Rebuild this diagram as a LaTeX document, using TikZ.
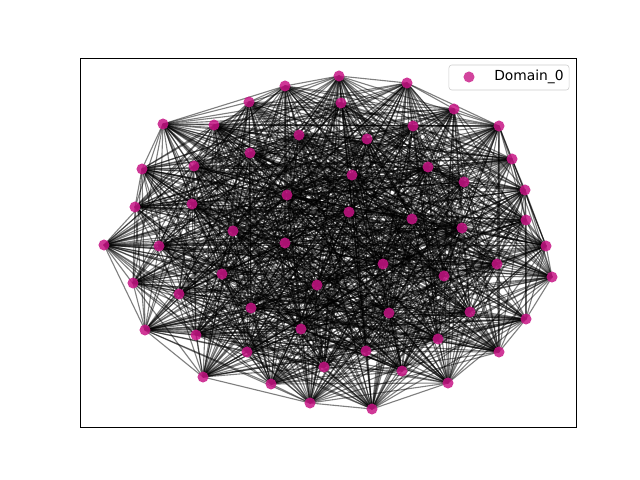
\documentclass[tikz,border=0pt]{standalone}
\usepackage{fontspec}
\setmainfont{DejaVu Sans}
\usetikzlibrary{backgrounds}
\definecolor{dom}{RGB}{199,21,133}

\begin{document}
\begin{tikzpicture}[x=0.254mm, y=-0.254mm, main/.style = {circle, fill=dom, fill opacity=0.85, inner sep=0pt, minimum size=2.8mm}, link/.style = {draw=black, draw opacity=0.5, line width=0.8pt}]
\useasboundingbox (0,0) rectangle (640,480);

\foreach \x/\y [count=\k] in {339/76, 407/83, 341/103, 454/109, 499/126, 413/126, 367/139, 512/159, 428/167, 352/175, 464/182, 525/190, 349/212, 412/219, 526/220, 462/228, 546/246, 383/264, 497/264, 444/276, 552/277, 389/313, 470/312, 526/319, 438/339, 366/351, 499/352, 402/371, 448/383, 372/409, 163/124, 214/125, 249/102, 285/86, 299/135, 250/153, 194/166, 142/169, 192/204, 135/207, 287/195, 233/231, 285/243, 104/245, 159/246, 222/274, 133/283, 317/285, 179/294, 251/308, 145/330, 301/329, 196/335, 247/352, 324/367, 203/377, 271/384, 310/403}
  \node[main] (n\k) at (\x,\y) {};

\begin{pgfonlayer}{background}
\foreach \i in {1,...,57} {
  \pgfmathtruncatemacro\s{\i+1}
  \foreach \j in {\s,...,58} {
    \pgfmathtruncatemacro\h{mod(mod(\i*\j,89)*37+\i*13+\j*7,100)}
    \ifnum\h<66 \draw[link] (n\i.center) -- (n\j.center); \fi
  }
}
\end{pgfonlayer}

\draw[line width=0.6pt] (80,58) rectangle (576,427);

\node[draw=black!20, fill=white, fill opacity=0.8, rounded corners=2pt, minimum width=30.5mm, minimum height=6.35mm] (legbox) at (509,77.5) {};
\node[main, fill opacity=0.8] (legdot) at (469,77) {};
\node[anchor=west, inner sep=0pt, font=\fontsize{10}{12}\selectfont] (legtext) at (494,77) {Domain\_0};
\end{tikzpicture}
\end{document}
